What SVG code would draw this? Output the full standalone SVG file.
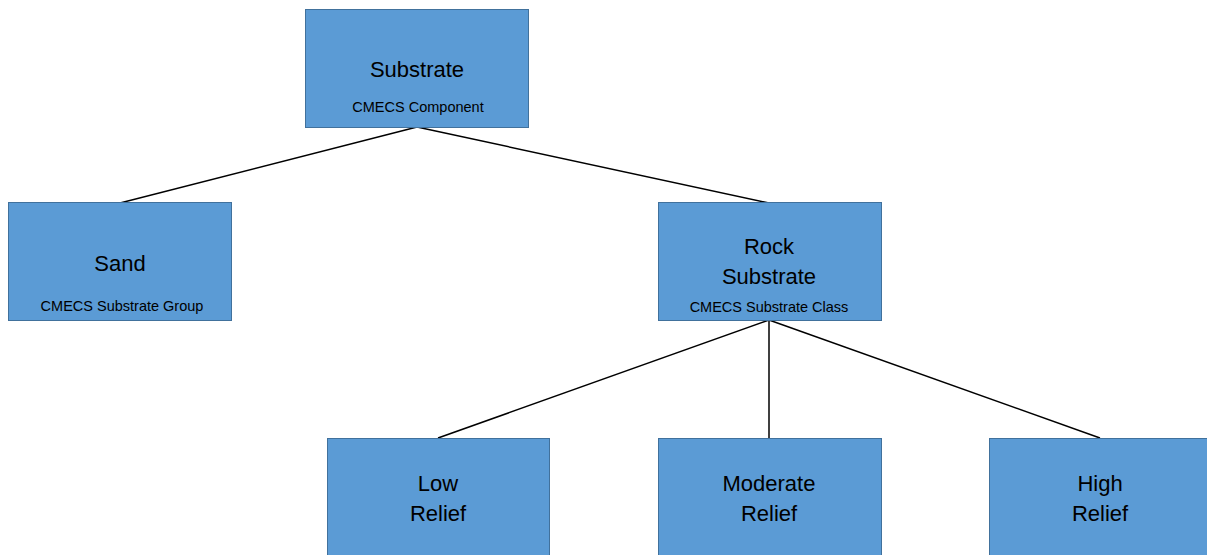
<svg xmlns="http://www.w3.org/2000/svg" width="1207" height="555" viewBox="0 0 1207 555">
<style>
.box{fill:#5B9BD5;stroke:#41719C;stroke-width:1}
.t{font-family:"Liberation Sans",Arial,sans-serif;font-size:22px;fill:#000;text-anchor:middle}
.s{font-family:"Liberation Sans",Arial,sans-serif;font-size:14.5px;fill:#000;text-anchor:middle}
.c{stroke:#000;stroke-width:1.5;fill:none}
</style>
<rect width="1207" height="555" fill="#fff"/>
<g id="connectors">
<line class="c" x1="417" y1="127" x2="120" y2="203"/>
<line class="c" x1="417" y1="127" x2="769" y2="203"/>
<line class="c" x1="769" y1="320" x2="438" y2="438"/>
<line class="c" x1="769" y1="320" x2="769" y2="438"/>
<line class="c" x1="769" y1="320" x2="1100" y2="438"/>
</g>
<g id="substrate">
<rect class="box" x="305.5" y="9.5" width="223" height="118"/>
<text class="t" x="417" y="77">Substrate</text>
<text class="s" x="418" y="112">CMECS Component</text>
</g>
<g id="sand">
<rect class="box" x="8.5" y="202.5" width="223" height="118"/>
<text class="t" x="120" y="271">Sand</text>
<text class="s" x="122" y="311">CMECS Substrate Group</text>
</g>
<g id="rock">
<rect class="box" x="658.5" y="202.5" width="223" height="118"/>
<text class="t" x="769" y="254">Rock</text>
<text class="t" x="769" y="284">Substrate</text>
<text class="s" x="769" y="312">CMECS Substrate Class</text>
</g>
<g id="low">
<rect class="box" x="327.5" y="438.5" width="222" height="120"/>
<text class="t" x="438" y="491">Low</text>
<text class="t" x="438" y="521">Relief</text>
</g>
<g id="moderate">
<rect class="box" x="658.5" y="438.5" width="223" height="120"/>
<text class="t" x="769" y="491">Moderate</text>
<text class="t" x="769" y="521">Relief</text>
</g>
<g id="high">
<rect class="box" x="989.5" y="438.5" width="222" height="120"/>
<text class="t" x="1100" y="491">High</text>
<text class="t" x="1100" y="521">Relief</text>
</g>
</svg>
